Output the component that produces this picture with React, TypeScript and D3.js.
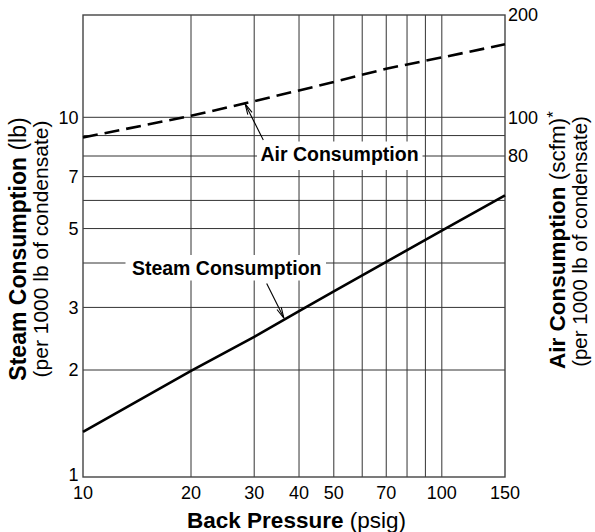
import React from "react";
import * as d3 from "d3";

// ---- data ----
const pressure = [10, 20, 30, 40, 50, 70, 100, 150]; // psig
const steam = [1.34, 1.99, 2.48, 2.93, 3.33, 4.03, 4.93, 6.2]; // lb per 1000 lb condensate
const air = [89, 101, 111.5, 120, 127, 139, 150, 164]; // scfm per 1000 lb condensate

const xTicks = [10, 20, 30, 40, 50, 70, 100, 150];
const xGrid = [20, 30, 40, 50, 60, 70, 80, 90, 100];
const yLeftTicks = [1, 2, 3, 5, 7, 10];
const yGrid = [2, 3, 4, 5, 6, 7, 8, 9, 10];
const yRightTicks = [200, 100, 80];

const W = 595;
const H = 532;
const FONT = "'Liberation Sans', Arial, Helvetica, sans-serif";

export default function App() {
  const left = 83, right = 505, top = 15, bottom = 477;
  const x = d3.scaleLog().domain([10, 150]).range([left, right]);
  const yL = d3.scaleLog().domain([1, 8, 10, 20]).range([bottom, 156, 117.3, top]);
  const yR = d3.scaleLog().domain([10, 80, 100, 200]).range([bottom, 156, 117.3, top]);

  const steamLine = d3
    .line<number>()
    .x((_, i) => x(pressure[i]))
    .y((d) => yL(d))(steam) as string;
  const airLine = d3
    .line<number>()
    .x((_, i) => x(pressure[i]))
    .y((d) => yR(d))(air) as string;

  const arrow = (x0: number, y0: number, x1: number, y1: number) => {
    const a = Math.atan2(y1 - y0, x1 - x0);
    const len = 11;
    const spread = 0.22;
    const b1x = x1 - len * Math.cos(a - spread);
    const b1y = y1 - len * Math.sin(a - spread);
    const b2x = x1 - len * Math.cos(a + spread);
    const b2y = y1 - len * Math.sin(a + spread);
    return (
      <g stroke="#000" strokeWidth={1.1} fill="none">
        <line x1={x0} y1={y0} x2={x1} y2={y1} />
        <path d={`M${b1x},${b1y}L${x1},${y1}L${b2x},${b2y}`} />
      </g>
    );
  };

  // annotation targets on the curves
  const airTip = { x: x(28.3), y: yR(109.5) };
  const steamTip = { x: x(36.3), y: yL(2.8) };

  return (
    <svg width={W} height={H} style={{ display: "block", position: "absolute", left: 0, top: 0 }} fontFamily={FONT}>
      <rect width={W} height={H} fill="#fff" />
      {/* grid */}
      <g stroke="#333" strokeWidth={1}>
        {xGrid.map((v) => (
          <line key={"v" + v} x1={x(v)} x2={x(v)} y1={top} y2={bottom} />
        ))}
        {yGrid.map((v) => (
          <line key={"h" + v} x1={left} x2={right} y1={yL(v)} y2={yL(v)} />
        ))}
      </g>
      <rect x={left} y={top} width={right - left} height={bottom - top} fill="none" stroke="#444" strokeWidth={1.4} />

      {/* label boxes */}
      <rect x={257} y={141.5} width={165.5} height={28.5} fill="#fff" />
      <rect x={125.5} y={255} width={200.5} height={25.5} fill="#fff" />
      <text x={339.5} y={161} textAnchor="middle" fontWeight="bold" fontSize={19.5}>
        Air Consumption
      </text>
      <text x={226.7} y={275} textAnchor="middle" fontWeight="bold" fontSize={19.5}>
        Steam Consumption
      </text>
      {arrow(263.3, 140, airTip.x, airTip.y)}
      {arrow(266.7, 283.5, steamTip.x, steamTip.y)}

      {/* data lines */}
      <path d={airLine} fill="none" stroke="#000" strokeWidth={2.6} strokeDasharray="15,7" />
      <path d={steamLine} fill="none" stroke="#000" strokeWidth={2.6} />

      {/* tick labels */}
      <g fontSize={18} fill="#000">
        {xTicks.map((v) => (
          <text key={"xt" + v} x={x(v)} y={499} textAnchor="middle">
            {v}
          </text>
        ))}
        {yLeftTicks.map((v) => (
          <text key={"yl" + v} x={78.5} y={v === 1 ? yL(v) - 2 : yL(v)} dy="0.36em" textAnchor="end">
            {v}
          </text>
        ))}
        {yRightTicks.map((v) => (
          <text key={"yr" + v} x={508} y={yR(v)} dy="0.36em" textAnchor="start">
            {v}
          </text>
        ))}
      </g>

      {/* axis titles */}
      <text x={296.5} y={528} textAnchor="middle" fontSize={22.5}>
        <tspan fontWeight="bold">Back Pressure</tspan>
        <tspan> (psig)</tspan>
      </text>
      <g transform="translate(25.5,249) rotate(-90)">
        <text textAnchor="middle" fontSize={23}>
          <tspan fontWeight="bold">Steam Consumption</tspan>
          <tspan> (lb)</tspan>
        </text>
      </g>
      <g transform="translate(47.5,249) rotate(-90)">
        <text textAnchor="middle" fontSize={21}>
          (per 1000 lb of condensate)
        </text>
      </g>
      <g transform="translate(565,240) rotate(-90)">
        <text textAnchor="middle" fontSize={22.5}>
          <tspan fontWeight="bold">Air Consumption</tspan>
          <tspan> (scfm)</tspan>
          <tspan fontSize={17} dy={-6}>*</tspan>
        </text>
      </g>
      <g transform="translate(587,241.5) rotate(-90)">
        <text textAnchor="middle" fontSize={20.5}>
          (per 1000 lb of condensate)
        </text>
      </g>
    </svg>
  );
}
